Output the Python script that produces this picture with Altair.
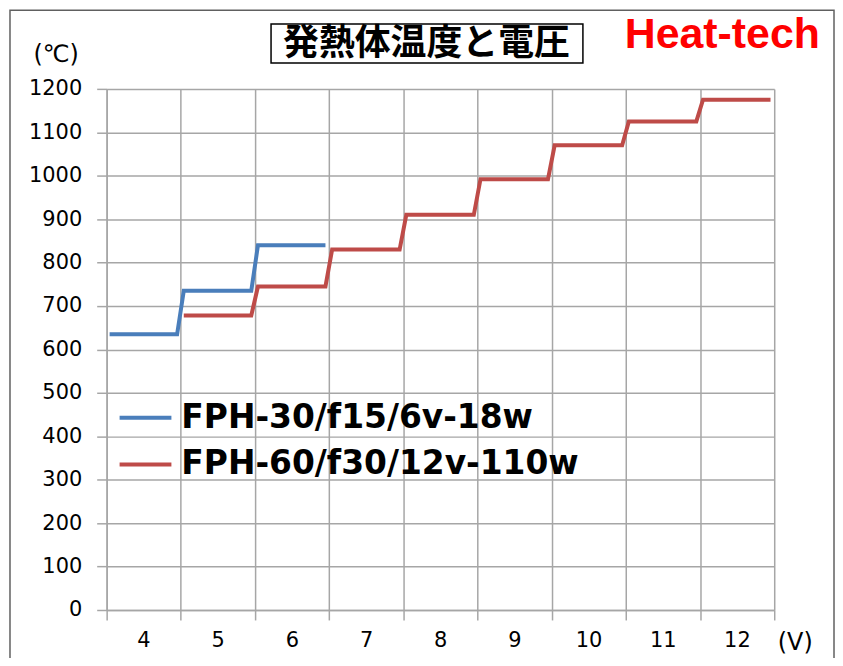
import altair as alt
import pandas as pd

# ---- data ----
series = ["FPH-30/f15/6v-18w", "FPH-60/f30/12v-110w"]
colors = ["#4a7ebb", "#be4b48"]
volts_a = [4, 5, 6]
temps_a = [635, 735, 840]
volts_b = [5, 6, 7, 8, 9, 10, 11, 12]
temps_b = [678, 745, 830, 910, 992, 1070, 1125, 1175]
x_grid = [3.5, 4.5, 5.5, 6.5, 7.5, 8.5, 9.5, 10.5, 11.5, 12.5]
y_ticks = [0, 100, 200, 300, 400, 500, 600, 700, 800, 900, 1000, 1100, 1200]
title_text = "発熱体温度と電圧"
brand_text = "Heat-tech"
x_unit = "(V)"
y_unit = "(℃)"

# each voltage holds a flat step across its band
rows = []
for name, vs, ts in [(series[0], volts_a, temps_a), (series[1], volts_b, temps_b)]:
    for i, (v, t) in enumerate(zip(vs, ts)):
        rows.append({"series": name, "v": v - 0.46, "t": t, "o": 2 * i})
        rows.append({"series": name, "v": v + 0.45, "t": t, "o": 2 * i + 1})
df = pd.DataFrame(rows)

W, H = 670, 523
GRID = "#a6a6a6"
AX_FONT = "DejaVu Sans"

lines = alt.Chart(df).mark_line(strokeWidth=4).encode(
    x=alt.X("v:Q",
            scale=alt.Scale(domain=[3.5, 12.5], nice=False, zero=False),
            axis=alt.Axis(values=x_grid,
                          labelExpr="datum.value < 12 ? format(datum.value + 0.5, 'd') : ''",
                          labelOffset=37, labelFlush=False, labelOverlap=False,
                          labelPadding=10, labelFontSize=21, labelFont=AX_FONT,
                          labelColor="#000000",
                          tickSize=10, grid=True,
                          title=x_unit, titleX=673, titleY=40, titleAlign="left",
                          titleAngle=0, titleBaseline="alphabetic", titleFontSize=24,
                          titleFontWeight="normal", titleFont=AX_FONT,
                          titleColor="#000000")),
    y=alt.Y("t:Q",
            scale=alt.Scale(domain=[0, 1200], nice=False),
            axis=alt.Axis(values=y_ticks, format="d", tickSize=10, labelPadding=15,
                          labelFontSize=21, labelFont=AX_FONT,
                          labelColor="#000000", grid=True,
                          title=y_unit, titleAngle=0, titleX=-74, titleY=-27,
                          titleAlign="left", titleBaseline="alphabetic",
                          titleFontSize=24, titleFontWeight="normal",
                          titleFont=AX_FONT, titleColor="#000000")),
    color=alt.Color("series:N",
                    scale=alt.Scale(domain=series, range=colors),
                    legend=alt.Legend(title=None, orient="none", legendX=11, legendY=302,
                                      symbolType="stroke", symbolSize=2704,
                                      symbolStrokeWidth=4, labelFontSize=33,
                                      labelFont="DejaVu Sans", labelFontWeight="bold",
                                      labelColor="#000000", labelLimit=800,
                                      labelOffset=8, rowPadding=2, padding=0)),
    order="o:Q",
)

one = alt.Data(values=[{"k": 1}])

frame = alt.Chart(one).mark_rect(fill="transparent", stroke="#606060", strokeWidth=1.5).encode(
    x=alt.value(-97), x2=alt.value(W + 60), y=alt.value(-79), y2=alt.value(H + 200))

title_box = alt.Chart(one).mark_rect(fill="white", stroke="#000000", strokeWidth=1.5).encode(
    x=alt.value(165), x2=alt.value(478), y=alt.value(-65), y2=alt.value(-26))

title = alt.Chart(one).mark_text(text=title_text, font="Noto Sans CJK JP", fontWeight="bold",
                                 fontSize=36, color="#000000", align="center",
                                 baseline="middle").encode(
    x=alt.value(321), y=alt.value(-45))

brand = alt.Chart(one).mark_text(text=brand_text, font="Liberation Sans",
                                 fontWeight="bold", fontSize=43, color="#ff0000",
                                 align="left", baseline="alphabetic").encode(
    x=alt.value(520), y=alt.value(-41))

chart = alt.layer(frame, title_box, title, brand, lines).properties(
    width=W, height=H,
    padding={"left": 99, "top": 80, "right": 61, "bottom": 47},
    autosize=alt.AutoSizeParams(type="none"),
    background="white",
).configure_view(stroke=None).configure_axis(
    gridColor=GRID, gridWidth=1.5, domainColor=GRID, domainWidth=1.5,
    tickColor=GRID, tickWidth=1.5,
)

chart.save("out.html", embed_options={"renderer": "svg", "actions": False})
